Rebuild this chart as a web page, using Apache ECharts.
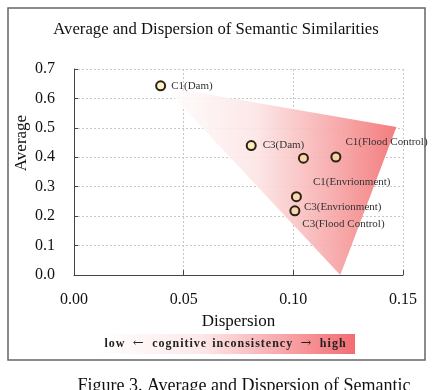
<!DOCTYPE html>
<html><head><meta charset="utf-8">
<script src="https://cdn.jsdelivr.net/npm/echarts@6/dist/echarts.min.js"></script>
<style>html,body{margin:0;padding:0;background:#fff}#c{width:436px;height:390px}</style>
</head><body><div id="c"></div>
<script>
// ---- data ----
const names = ['C1(Dam)', 'C3(Dam)', 'C1(Envrionment)', 'C1(Flood Control)', 'C3(Envrionment)', 'C3(Flood Control)'];
const dispersion = [0.0395, 0.0808, 0.1046, 0.1194, 0.1014, 0.1007];
const average = [0.643, 0.440, 0.397, 0.401, 0.266, 0.218];
const regionX = [0.041, 0.147, 0.1214];
const regionY = [0.640, 0.503, 0.0];
const xTicks = [0, 0.05, 0.10, 0.15];
const yTicks = [0, 0.1, 0.2, 0.3, 0.4, 0.5, 0.6, 0.7];

// ---- styling ----
const SERIF = '"Liberation Serif", "Times New Roman", serif';
const labelOffsets = {
  'C1(Dam)': [0, 0], 'C3(Dam)': [1, 0], 'C1(Envrionment)': [-1, 24],
  'C1(Flood Control)': [-1, -15], 'C3(Envrionment)': [-3, 10], 'C3(Flood Control)': [-3, 13]
};
const fills = {
  'C1(Dam)': '#fdf7c6', 'C3(Dam)': '#fcefbd', 'C1(Envrionment)': '#f9d7ab',
  'C1(Flood Control)': '#f8d3a8', 'C3(Envrionment)': '#f9d9b0', 'C3(Flood Control)': '#f9d9b0'
};
function spaced(s) {
  return s.split(' ').map(w => w.split('').join('\u200A')).join('\u2002');
}
const GAP = '\u2002\u2009';

const chart = echarts.init(document.getElementById('c'), null, {renderer: 'canvas'});
const pts = names.map((n, i) => ({
  name: n, value: [dispersion[i], average[i]],
  itemStyle: {color: fills[n]},
  label: {offset: labelOffsets[n]}
}));
const region = regionX.map((x, i) => [x, regionY[i]]);

chart.setOption({
  animation: false,
  backgroundColor: '#fff',
  grid: {left: 74, top: 69, width: 329, height: 206},
  xAxis: {
    type: 'value', min: xTicks[0], max: xTicks[xTicks.length - 1], interval: 0.05,
    name: 'Dispersion', nameLocation: 'middle', nameGap: 38,
    nameTextStyle: {fontFamily: SERIF, fontSize: 17, color: '#111'},
    axisLine: {show: true, lineStyle: {color: '#444', width: 1}},
    axisTick: {show: true, inside: true, length: 5, lineStyle: {color: '#444'}},
    axisLabel: {formatter: v => v.toFixed(2), fontFamily: SERIF, fontSize: 16, color: '#111', margin: 17},
    splitLine: {show: true, lineStyle: {type: [2, 2], color: '#c8c8c8'}}
  },
  yAxis: {
    type: 'value', min: yTicks[0], max: yTicks[yTicks.length - 1], interval: 0.1,
    axisLine: {show: true, lineStyle: {color: '#444', width: 1}},
    axisTick: {show: true, inside: true, length: 4, lineStyle: {color: '#444'}},
    axisLabel: {formatter: v => v.toFixed(1), fontFamily: SERIF, fontSize: 16, color: '#111', margin: 19},
    splitLine: {show: true, lineStyle: {type: [2, 2], color: '#c8c8c8'}}
  },
  series: [
    {
      type: 'custom', z: 1, silent: true,
      data: [0],
      renderItem: (params, api) => {
        const p = region.map(v => api.coord(v));
        return {
          type: 'polygon', shape: {points: p},
          style: {
            fill: new echarts.graphic.LinearGradient(0, 0, 1, 0, [
              {offset: 0, color: 'rgba(255,255,255,0.9)'},
              {offset: 0.4, color: 'rgba(252,228,228,0.9)'},
              {offset: 1, color: 'rgba(243,118,120,0.95)'}
            ])
          }
        };
      }
    },
    {
      type: 'scatter', z: 3, symbol: 'circle', symbolSize: 9,
      itemStyle: {borderColor: '#2e2015', borderWidth: 2, opacity: 1},
      label: {
        show: true, position: 'right', distance: 5, formatter: p => p.name,
        fontFamily: SERIF, fontSize: 11, color: '#333'
      },
      data: pts
    }
  ],
  graphic: [
    {type: 'rect', shape: {x: 8, y: 8, width: 417, height: 352}, style: {fill: 'none', stroke: '#666', lineWidth: 1.5}, z: 0},
    {type: 'text', x: 216, y: 30, style: {text: 'Average and Dispersion of Semantic Similarities', font: '16.7px ' + SERIF, fill: '#111', textAlign: 'center', textVerticalAlign: 'middle'}},
    {type: 'text', x: 22, y: 143, rotation: Math.PI / 2, style: {text: 'Average', font: '17px ' + SERIF, fill: '#111', textAlign: 'center', textVerticalAlign: 'middle'}},
    {type: 'rect', shape: {x: 100, y: 334, width: 255, height: 20},
      style: {fill: new echarts.graphic.LinearGradient(0, 0, 1, 0, [
        {offset: 0, color: '#ffffff'}, {offset: 0.4, color: '#fde8e8'}, {offset: 1, color: '#f36c72'}])}},
    {type: 'text', x: 225, y: 344, style: {
      text: spaced('low') + GAP + '{a|\u2190}' + GAP + spaced('cognitive inconsistency') + GAP + '{a|\u2192}' + GAP + spaced('high'),
      font: 'bold 12px ' + SERIF, fill: '#222', textAlign: 'center', textVerticalAlign: 'middle',
      rich: {a: {font: '13px "DejaVu Serif", serif', fill: '#222'}}}},
    {type: 'text', x: 244, y: 386, style: {text: 'Figure 3. Average and Dispersion of Semantic', font: '18px ' + SERIF, fill: '#111', textAlign: 'center', textVerticalAlign: 'middle'}}
  ]
});
</script></body></html>
